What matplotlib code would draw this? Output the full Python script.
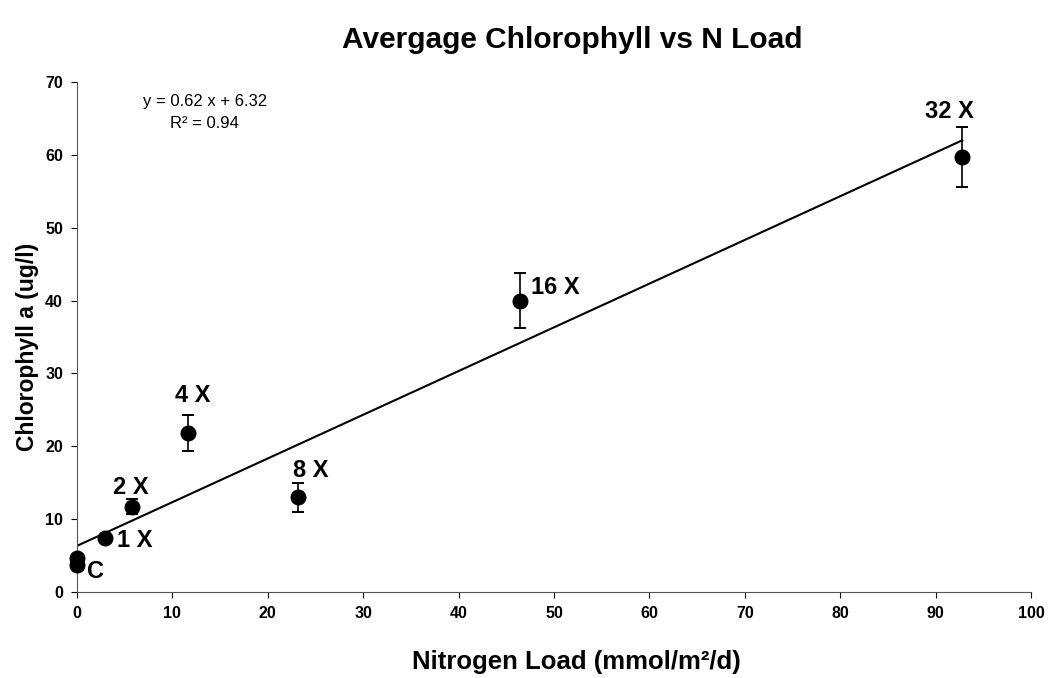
import numpy as np
import matplotlib.pyplot as plt

plt.rcParams['font.family'] = ['Liberation Sans', 'DejaVu Sans']

# data
n_load = [0, 0, 2.9, 5.8, 11.6, 23.2, 46.4, 92.8]
chl = [3.7, 4.7, 7.4, 11.7, 21.8, 13.0, 40.0, 59.7]
chl_err = [0, 0, 0.3, 1.0, 2.5, 2.0, 3.8, 4.1]
labels = ['C', '', '1 X', '2 X', '4 X', '8 X', '16 X', '32 X']

# trend line as drawn, and the equation printed on the chart
trend = [0.60, 6.32]
eq_text = 'y = 0.62 x + 6.32'
r2_text = 'R² = 0.94'

# label offsets in points (layout only)
offsets = [(7, -5), (0, 0), (9, -2), (-14, 14), (-9, 27), (-4, 19.5), (8.5, 9.5), (-27, 33)]

fig = plt.figure(figsize=(10.52, 6.78), dpi=100)
ax = fig.add_axes([0.0732, 0.127, 0.9068, 0.752])

ax.errorbar(n_load, chl, yerr=chl_err, fmt='o', color='black', ms=10.5,
            ecolor='black', elinewidth=1.2, capsize=4.5, capthick=1.4,
            zorder=3, clip_on=False)

xfit = np.array([0, max(n_load)])
ax.plot(xfit, np.polyval(trend, xfit), color='black', lw=1.5, zorder=2)

for x, y, lab, off in zip(n_load, chl, labels, offsets):
    if lab:
        ax.annotate(lab, (x, y), xytext=off, textcoords='offset points',
                    fontsize=17, fontweight='bold', ha='left', va='center')

ax.text(0.134, 0.961, eq_text, transform=ax.transAxes,
        fontsize=12, ha='center', va='center')
ax.text(0.134, 0.918, r2_text, transform=ax.transAxes,
        fontsize=12, ha='center', va='center')

ax.set_xlim(0, 100)
ax.set_ylim(0, 70)
ax.set_xticks(range(0, 101, 10))
ax.set_yticks(range(0, 71, 10))
ax.tick_params(labelsize=11.5, direction='out', length=4, pad=6)
for t in ax.get_xticklabels() + ax.get_yticklabels():
    t.set_fontweight('bold')
ax.spines['top'].set_visible(False)
ax.spines['right'].set_visible(False)
ax.spines['bottom'].set_color('#555555')
ax.spines['left'].set_color('#555555')

fig.text(0.544, 0.941, 'Avergage Chlorophyll vs N Load', fontsize=21.5,
         fontweight='bold', ha='center', va='center')
fig.text(0.548, 0.024, 'Nitrogen Load (mmol/m²/d)', fontsize=18.5,
         fontweight='bold', ha='center', va='center')
fig.text(0.026, 0.488, 'Chlorophyll a (ug/l)', fontsize=16.5, fontweight='bold',
         ha='center', va='center', rotation=90)

fig.savefig('out.png', dpi=100)
